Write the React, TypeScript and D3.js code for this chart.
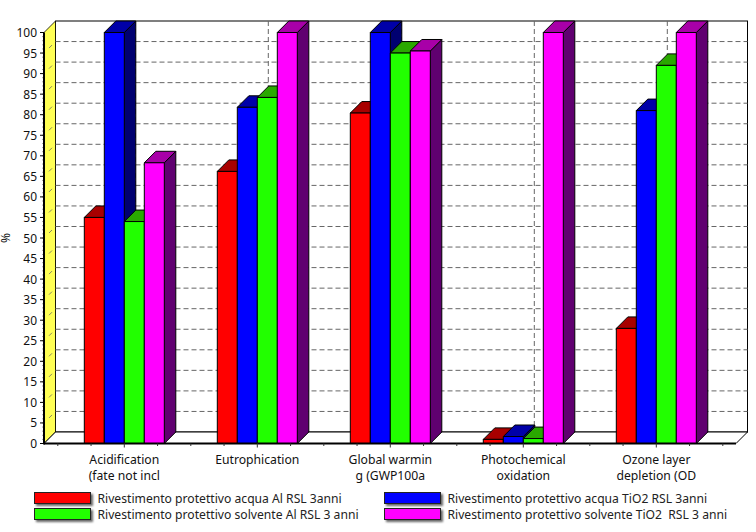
import React from "react";
import * as d3 from "d3";

const categories = [
  ["Acidification", "(fate not incl"],
  ["Eutrophication"],
  ["Global warmin", "g (GWP100a"],
  ["Photochemical", "oxidation"],
  ["Ozone layer", "depletion (OD"],
];
const seriesNames = [
  "Rivestimento protettivo acqua Al RSL 3anni",
  "Rivestimento protettivo acqua TiO2 RSL 3anni",
  "Rivestimento protettivo solvente Al RSL 3 anni",
  "Rivestimento protettivo solvente TiO2  RSL 3 anni",
];
const acquaAl = [55, 66.2, 80.4, 1, 28];
const acquaTiO2 = [100, 81.8, 100, 1.7, 81];
const solventeAl = [54, 84.2, 95, 1.2, 92];
const solventeTiO2 = [68.3, 100, 95.5, 100, 100];
const seriesValues = [acquaAl, acquaTiO2, solventeAl, solventeTiO2];
const faceColors = ["#ff0000", "#0000ff", "#22ff00", "#ff00ff"];
const topColors = ["#a80000", "#0000a8", "#2aa800", "#a800a8"];
const sideColors = ["#700000", "#000070", "#007000", "#600070"];
const yTicks = d3.range(0, 101, 5);
const yMinor = d3.range(0, 100.1, 1);

const W = 756, H = 532;
const depth = 11.5;
const x0 = 44, x1 = 736;
const y = d3.scaleLinear().domain([0, 100]).range([443.5, 32.5]);
const band = d3.scaleBand<number>().domain(d3.range(5)).range([57.8, 722.8]);
const barW = 20;
const font = "'Noto Sans', Tahoma, sans-serif";

export default function App() {
  const pts = (p: number[][]) => p.map((q) => q.join(",")).join(" ");
  const xMinor = d3.range(0, 21).map((i) => 57.8 + (i * 665) / 20);
  return (
    <svg width={W} height={H} style={{ position: "absolute", left: 0, top: 0, background: "#fff" }} fontFamily={font}>
      <defs>
        <filter id="sh" x="-10%" y="-20%" width="120%" height="160%">
          <feDropShadow dx="2" dy="2" stdDeviation="1" floodColor="#000" floodOpacity="0.6" />
        </filter>
      </defs>
      {/* back wall */}
      <rect x={x0 + depth} y={y(100) - depth} width={x1 - x0} height={y(0) - y(100)} fill="#fff" stroke="#000" strokeWidth={1} />
      {/* left wall */}
      <polygon
        points={pts([[x0, y(100)], [x0 + depth, y(100) - depth], [x0 + depth, y(0) - depth], [x0, y(0)]])}
        fill="#ffff55" stroke="#000" strokeWidth={0.8}
      />
      {/* floor */}
      <polygon
        points={pts([[x0, y(0)], [x0 + depth, y(0) - depth], [x1 + depth, y(0) - depth], [x1, y(0)]])}
        fill="#fff" stroke="#000" strokeWidth={1}
      />
      {/* gridlines */}
      {yTicks.slice(1, -1).map((t) => (
        <g key={t} stroke="#666" strokeWidth={1}>
          <line x1={x0 + depth} x2={x1 + depth} y1={y(t) - depth} y2={y(t) - depth} strokeDasharray="5 3" />
          <line x1={x0 + 5} x2={x0 + 8} y1={y(t) - 5} y2={y(t) - 8} strokeWidth={0.8} />
        </g>
      ))}
      {categories.map((_, i) => {
        const cx = band(i)! + band.bandwidth() / 2 + depth - 0.5;
        return <line key={i} x1={cx} x2={cx} y1={y(100) - depth} y2={y(0) - depth} stroke="#666" strokeDasharray="5 3" />;
      })}
      {/* bars */}
      {categories.map((_, i) => {
        const cx = band(i)! + band.bandwidth() / 2;
        return (
          <g key={i} stroke="#000" strokeWidth={1} strokeLinejoin="round">
            {seriesValues.map((vals, s) => {
              const l = cx - 2 * barW + s * barW;
              const r = l + barW;
              const t = y(vals[i]);
              const b = y(0);
              return (
                <g key={s}>
                  <polygon points={pts([[r, t], [r + depth, t - depth], [r + depth, b - depth], [r, b]])} fill={sideColors[s]} />
                  <polygon points={pts([[l, t], [l + depth, t - depth], [r + depth, t - depth], [r, t]])} fill={topColors[s]} />
                  <rect x={l} y={t} width={barW} height={b - t} fill={faceColors[s]} />
                </g>
              );
            })}
          </g>
        );
      })}
      {/* y axis */}
      <line x1={x0} x2={x0} y1={y(100)} y2={y(0) + 1} stroke="#000" strokeWidth={2} />
      {yMinor.map((t) => (
        <line key={t} x1={x0 - 1.5} x2={x0} y1={y(t)} y2={y(t)} stroke="#000" strokeWidth={0.7} />
      ))}
      {yTicks.map((t) => (
        <g key={t}>
          <line x1={x0 - 4} x2={x0} y1={y(t)} y2={y(t)} stroke="#000" />
          <text x={37} y={y(t) + 4.5} textAnchor="end" fontSize={12} fill="#111">{t}</text>
        </g>
      ))}
      <text transform={`translate(9.5,238) rotate(-90)`} textAnchor="middle" fontSize={12} fill="#111">%</text>
      {/* x axis */}
      <line x1={x0} x2={x1} y1={y(0)} y2={y(0)} stroke="#000" strokeWidth={2} />
      {xMinor.map((x, i) => (
        <line key={i} x1={x} x2={x} y1={y(0)} y2={y(0) + (i % 4 === 2 ? 4 : 2.5)} stroke="#333" />
      ))}
      {categories.map((lines, i) => (
        <text key={i} textAnchor="middle" fontSize={12.2} fill="#111">
          {lines.map((ln, j) => (
            <tspan key={j} x={band(i)! + band.bandwidth() / 2} y={464 + j * 16}>{ln}</tspan>
          ))}
        </text>
      ))}
      {/* legend */}
      {seriesNames.map((name, s) => {
        const lx = s % 2 === 0 ? 34.5 : 384.5;
        const ly = s < 2 ? 492.5 : 508.5;
        return (
          <g key={s}>
            <rect x={lx} y={ly} width={56} height={11} fill={faceColors[s]} stroke="#222" filter="url(#sh)" />
            <text x={lx + 63} y={ly + 10} fontSize={12.15} fill="#222" style={{ whiteSpace: "pre" }}>{name}</text>
          </g>
        );
      })}
    </svg>
  );
}
